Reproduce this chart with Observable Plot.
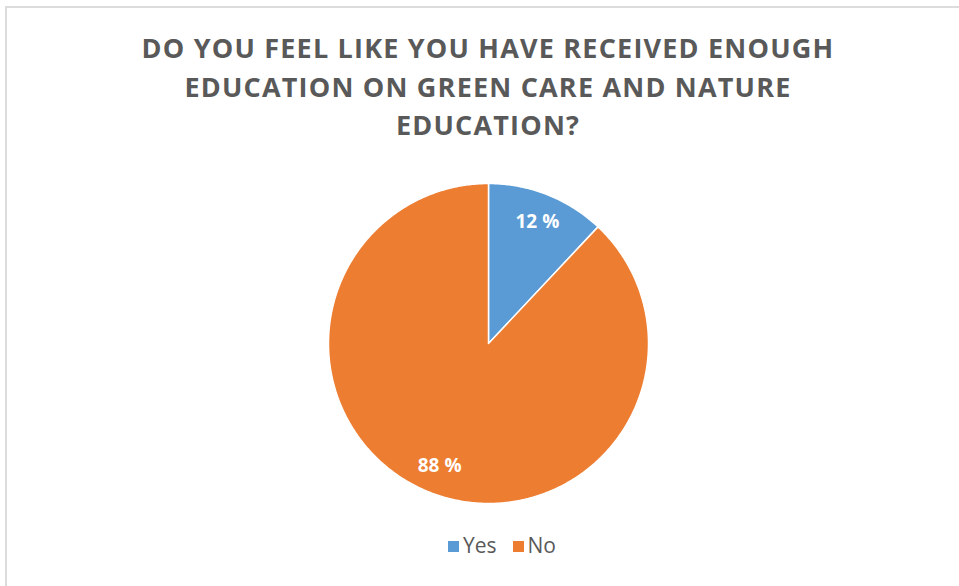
<!DOCTYPE html>
<html>
<head>
<meta charset="utf-8">
<script src="https://cdn.jsdelivr.net/npm/d3@7"></script>
<script src="https://cdn.jsdelivr.net/npm/@observablehq/plot@0.6"></script>
<style>
  html, body { margin: 0; padding: 0; background: #fff; }
  #wrap { position: relative; width: 959px; height: 586px; overflow: hidden; background: #fff; }
  #frame { position: absolute; left: 5px; top: 6px; width: 1000px; height: 700px; border-top: 2px solid #dcdcdc; border-left: 2px solid #dcdcdc; }
  #chart { position: absolute; left: 0; top: 0; }
  #title { position: absolute; left: 0; width: 976px; top: 29px; text-align: center;
    font-family: "Open Sans", sans-serif; font-weight: 700; font-size: 27px; line-height: 38.5px;
    letter-spacing: 1.2px; color: #595959; }
  #legend { position: absolute; top: 531px; left: 0; width: 1004px; text-align: center;
    font-family: "Open Sans", sans-serif; font-size: 21px; color: #595959; }
  #legend span.item { display: inline-block; margin: 0 8px; }
  #legend span.sw { display: inline-block; width: 11px; height: 11px; margin-right: 4px; vertical-align: 1px; }
</style>
</head>
<body>
<div id="wrap">
  <div id="frame"></div>
  <div id="chart"></div>
  <div id="title"></div>
  <div id="legend"></div>
</div>
<script>
const titleLines = ["DO YOU FEEL LIKE YOU HAVE RECEIVED ENOUGH", "EDUCATION ON GREEN CARE AND NATURE", "EDUCATION?"];
const categories = ["Yes", "No"];
const values = [12, 88];
const colors = ["#5B9BD5", "#ED7D31"];

document.getElementById("title").innerHTML = titleLines.join("<br>");

const pie = d3.pie().sort(null).value(d => d.value)(categories.map((c, i) => ({category: c, value: values[i]})));

const polyPts = [];
pie.forEach(s => {
  const n = Math.max(8, Math.ceil((s.endAngle - s.startAngle) / 0.01));
  polyPts.push({category: s.data.category, x: 0, y: 0});
  for (let k = 0; k <= n; k++) {
    const a = s.startAngle + (s.endAngle - s.startAngle) * k / n;
    polyPts.push({category: s.data.category, x: Math.sin(a), y: Math.cos(a)});
  }
  polyPts.push({category: s.data.category, x: 0, y: 0});
});

const labels = pie.map(s => {
  const m = (s.startAngle + s.endAngle) / 2;
  return {category: s.data.category, x: 0.83 * Math.sin(m), y: 0.82 * Math.cos(m), text: `${s.data.value} %`};
});

const plot = Plot.plot({
  width: 959,
  height: 586,
  marginLeft: 328,
  marginRight: 311,
  marginTop: 183,
  marginBottom: 83,
  x: {domain: [-1, 1], axis: null},
  y: {domain: [-1, 1], axis: null},
  color: {domain: categories, range: colors},
  style: {background: "transparent", overflow: "visible"},
  marks: [
    Plot.line(polyPts, {x: "x", y: "y", z: "category", fill: "category", stroke: "white", strokeWidth: 1.5, curve: "linear-closed"}),
    Plot.text(labels, {x: "x", y: "y", text: "text", fill: "white", fontSize: 19, fontWeight: "bold", fontFamily: "Open Sans, sans-serif"})
  ]
});
document.getElementById("chart").appendChild(plot);

document.getElementById("legend").innerHTML = categories.map((c, i) =>
  `<span class="item"><span class="sw" style="background:${colors[i]}"></span>${c}</span>`).join("");
</script>
</body>
</html>
